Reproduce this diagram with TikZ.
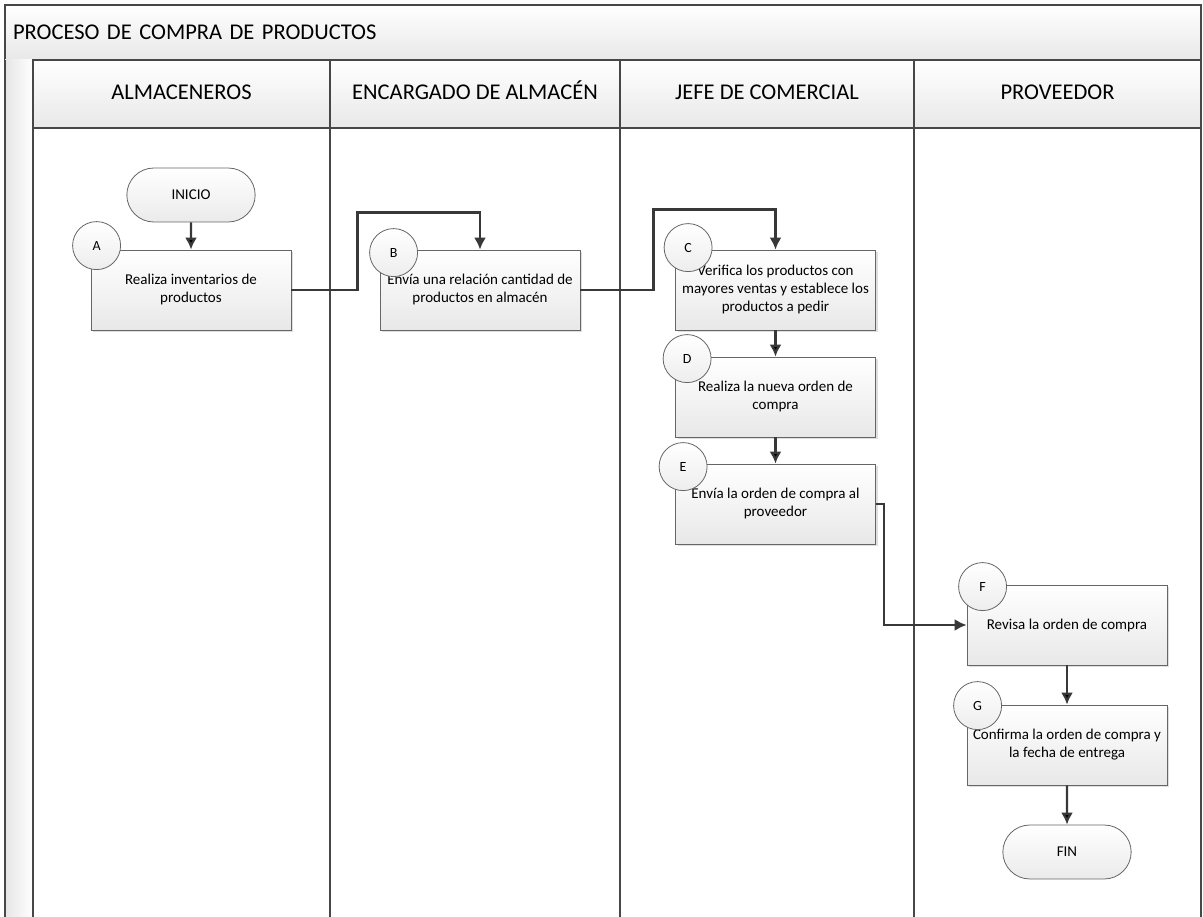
\documentclass[tikz,border=0pt]{standalone}
\usepackage{fontspec}
\setmainfont{Carlito}
\usepackage{tikz}
\usetikzlibrary{arrows, arrows.meta, positioning, shapes, shadows}

\tikzset{
  lane/.style   = {draw=black!72, line width=1.4pt},
  band/.style   = {lane, rectangle, top color=white, bottom color=black!9, inner sep=0pt},
  header/.style = {band, minimum height=68pt, text height=16pt, text depth=4pt, font=\fontsize{22.5}{27}\selectfont},
  proc/.style   = {draw=black!60, line width=0.8pt, rectangle, minimum width=200pt, minimum height=80pt,
                   align=center, top color=white, bottom color=black!9, font=\fontsize{15}{18}\selectfont,
                   drop shadow={shadow xshift=2pt, shadow yshift=-2pt, opacity=0.25}},
  tag/.style    = {draw=black!60, line width=0.8pt, circle, minimum size=48pt, inner sep=0pt,
                   top color=white, bottom color=black!7, font=\fontsize{14}{16}\selectfont},
  term/.style   = {draw=black!60, line width=0.8pt, rounded rectangle, minimum width=135pt, minimum height=54pt,
                   top color=white, bottom color=black!8, font=\fontsize{15}{18}\selectfont},
  conn/.style   = {draw=black!78, line width=2.2pt, -{Latex[length=12pt, width=12pt]}},
}

\begin{document}
\begin{tikzpicture}[x=1pt, y=-1pt, node distance=107pt]

\useasboundingbox (0,0) rectangle (1203,917);

\node [band, minimum width=1196pt, minimum height=55pt, text width=1180pt, inner xsep=8pt,
       align=left, font=\fontsize{22.5}{27}\selectfont] (proceso) at (603,32.5) {PROCESO DE COMPRA DE PRODUCTOS};

\shade [left color=black!10, right color=white] (5,60) rectangle (33,920);
\draw  [lane] (5,60) -- (5,920);
\draw  [lane] (33,60) -- (33,920);

\node [header, minimum width=297pt] (almaceneros) at (181.5,94) {ALMACENEROS};
\node [header, minimum width=290pt] (encargado)   at (475,94)   {ENCARGADO DE ALMACÉN};
\node [header, minimum width=294pt] (jefe)        at (767,94)   {JEFE DE COMERCIAL};
\node [header, minimum width=287pt] (proveedor)   at (1057.5,94){PROVEEDOR};

\draw [lane] (330,128)  -- (330,920);
\draw [lane] (620,128)  -- (620,920);
\draw [lane] (914,128)  -- (914,920);
\draw [lane] (1201,60)  -- (1201,920);

\node [term                    ] (inicio) at (191,195)   {INICIO};
\node [proc                    ] (a)      at (191,290)   {Realiza inventarios de\\productos};
\node [proc                    ] (b)      at (480,290)   {Envía una relación cantidad de\\productos en almacén};
\node [proc                    ] (c)      at (775.5,290) {Verifica los productos con\\mayores ventas y establece los\\productos a pedir};
\node [proc, below of=c        ] (d)                     {Realiza la nueva orden de\\compra};
\node [proc, below of=d        ] (e)                     {Envía la orden de compra al\\proveedor};
\node [proc                    ] (f)      at (1067,625)  {Revisa la orden de compra};
\node [proc, below of=f, yshift=-13pt] (g)               {Confirma la orden de compra y\\la fecha de entrega};
\node [term, below of=g        ] (fin)                   {FIN};

\node [tag] (ta) at ([xshift=6pt,  yshift=4pt]  a.north west) {A};
\node [tag] (tb) at ([xshift=14pt, yshift=-3pt] b.north west) {B};
\node [tag] (tc) at ([xshift=13pt, yshift=2pt]  c.north west) {C};
\node [tag] (td) at ([xshift=12pt, yshift=-2pt] d.north west) {D};
\node [tag] (te) at ([xshift=8pt,  yshift=-3pt] e.north west) {E};
\node [tag] (tf) at ([xshift=16pt, yshift=-2pt] f.north west) {F};
\node [tag] (tg) at ([xshift=11pt, yshift=-1pt] g.north west) {G};

\path [conn] (inicio) edge (a);
\draw [conn] (a.east) -- ++(66,0) |- ([yshift=37pt]b.north) -- (b.north);
\draw [conn] (b.east) -- ++(73,0) |- ([yshift=40pt]c.north) -- (c.north);
\path [conn] (c) edge (d);
\path [conn] (d) edge (e);
\draw [conn] (e.east) -- ++(8,0) |- (f.west);
\path [conn] (f) edge (g);
\path [conn] (g) edge (fin);

\end{tikzpicture}
\end{document}
